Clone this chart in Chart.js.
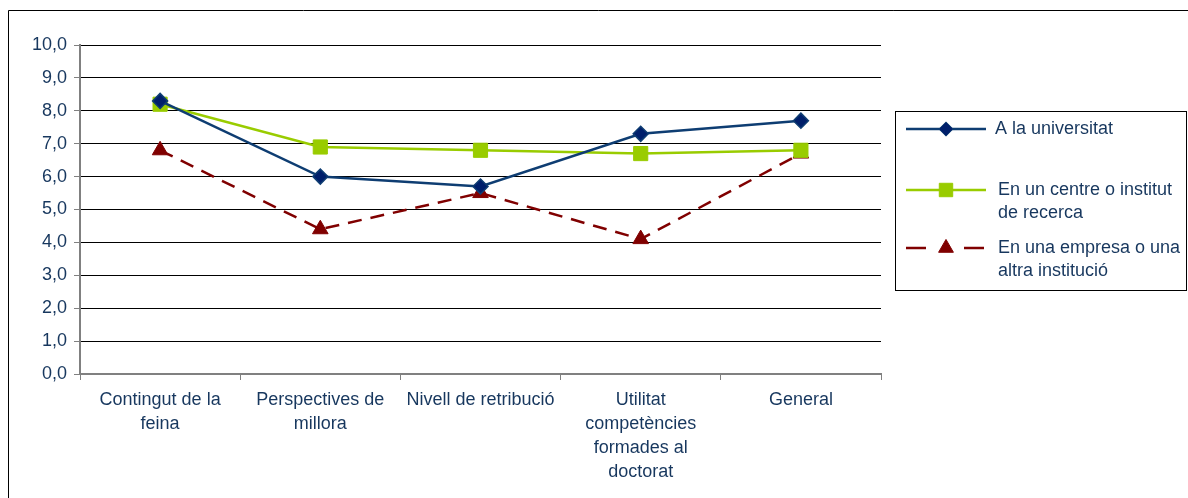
<!DOCTYPE html>
<html>
<head>
<meta charset="utf-8">
<script src="https://cdn.jsdelivr.net/npm/chart.js@4.4.1/dist/chart.umd.min.js"></script>
<style>
  html, body { margin: 0; padding: 0; background: #fff; }
  #wrap { position: relative; width: 1188px; height: 498px; }
</style>
</head>
<body>
<div id="wrap"><canvas id="chart" width="1188" height="498"></canvas></div>
<script>
  // categories (multi-line labels)
  const categories = [
    ['Contingut de la', 'feina'],
    ['Perspectives de', 'millora'],
    'Nivell de retribució',
    ['Utilitat', 'competències', 'formades al', 'doctorat'],
    'General'
  ];
  // series names, split the way the legend shows them
  const seriesNames = [
    ['A la universitat'],
    ['En un centre o institut', 'de recerca'],
    ['En una empresa o una', 'altra institució']
  ];
  const universitat = [8.3, 6.0, 5.7, 7.3, 7.7];
  const centreRecerca = [8.2, 6.9, 6.8, 6.7, 6.8];
  const empresa = [6.8, 4.4, 5.5, 4.1, 6.7];
  const yTicks = [0, 1, 2, 3, 4, 5, 6, 7, 8, 9, 10];

  const textColor = '#17375E';
  const font = { family: 'Liberation Sans, Arial, sans-serif', size: 18, lineHeight: 1.33 };

  // outer frame + legend box drawn on canvas
  const frameLegend = {
    id: 'frameLegend',
    afterDraw(chart) {
      const ctx = chart.ctx;
      ctx.save();
      // outer frame
      ctx.strokeStyle = '#000';
      ctx.lineWidth = 1;
      ctx.beginPath();
      ctx.moveTo(8.5, 498);
      ctx.lineTo(8.5, 10.5);
      ctx.lineTo(1188, 10.5);
      ctx.stroke();

      // legend box
      ctx.strokeRect(895.5, 111.5, 291, 179);

      const rows = [129, 190, 248];
      chart.data.datasets.forEach((ds, i) => {
        const y = rows[i];
        ctx.strokeStyle = ds.borderColor;
        ctx.lineWidth = ds.borderWidth;
        ctx.beginPath();
        if (ds.borderDash && ds.borderDash.length) {
          ctx.moveTo(906, y); ctx.lineTo(926, y);
          ctx.moveTo(964, y); ctx.lineTo(984, y);
        } else {
          ctx.moveTo(906, y); ctx.lineTo(986, y);
        }
        ctx.stroke();
        ctx.fillStyle = ds.pointBackgroundColor;
        ctx.strokeStyle = ds.pointBorderColor;
        ctx.lineWidth = 1;
        Chart.helpers.drawPoint(ctx, {
          pointStyle: ds.pointStyle,
          radius: ds.pointRadius * 0.95,
          rotation: 0,
          borderWidth: 1
        }, 946, y);

        ctx.fillStyle = textColor;
        ctx.font = font.size + 'px ' + font.family;
        ctx.textBaseline = 'middle';
        ctx.textAlign = 'left';
        seriesNames[i].forEach((line, k) => {
          ctx.fillText(line, i === 0 ? 995 : 998, y + k * 23);
        });
      });
      ctx.restore();
    }
  };

  new Chart(document.getElementById('chart'), {
    type: 'line',
    data: {
      labels: categories,
      datasets: [
        {
          label: seriesNames[0].join(' '),
          data: universitat,
          borderColor: '#0E3D72',
          borderWidth: 2.5,
          pointStyle: 'rectRot',
          pointRadius: 7.5,
          pointBackgroundColor: '#001F6B',
          pointBorderColor: '#0E3D72',
          pointBorderWidth: 1.5,
          tension: 0
        },
        {
          label: seriesNames[1].join(' '),
          data: centreRecerca,
          borderColor: '#99CC00',
          borderWidth: 2.5,
          pointStyle: 'rect',
          pointRadius: 10,
          pointBackgroundColor: '#99CC00',
          pointBorderColor: '#99CC00',
          pointBorderWidth: 1,
          tension: 0
        },
        {
          label: seriesNames[2].join(' '),
          data: empresa,
          borderColor: '#800000',
          borderWidth: 2.5,
          borderDash: [14, 9],
          pointStyle: 'triangle',
          pointRadius: 9,
          pointBackgroundColor: '#800000',
          pointBorderColor: '#800000',
          pointBorderWidth: 1,
          tension: 0
        }
      ]
    },
    options: {
      responsive: false,
      animation: false,
      layout: { padding: { top: 45, right: 307, left: 0, bottom: 0 } },
      plugins: {
        legend: { display: false },
        tooltip: { enabled: false }
      },
      scales: {
        x: {
          offset: true,
          grid: {
            offset: true,
            drawOnChartArea: false,
            drawTicks: true,
            tickLength: 6,
            color: '#808080'
          },
          border: { color: '#808080', width: 2 },
          ticks: {
            color: textColor,
            font: font,
            padding: 8,
            maxRotation: 0,
            autoSkip: false
          },
          afterFit(scale) { scale.height = 124; }
        },
        y: {
          min: 0,
          max: 10,
          afterBuildTicks(scale) { scale.ticks = yTicks.map(v => ({ value: v })); },
          grid: {
            color: '#000',
            lineWidth: 1,
            tickLength: 6,
            tickColor: '#808080'
          },
          border: { color: '#808080', width: 2 },
          ticks: {
            color: textColor,
            font: font,
            padding: 7,
            callback: v => v.toFixed(1).replace('.', ',')
          },
          afterFit(scale) { scale.width = 80; }
        }
      }
    },
    plugins: [frameLegend]
  });
</script>
</body>
</html>
